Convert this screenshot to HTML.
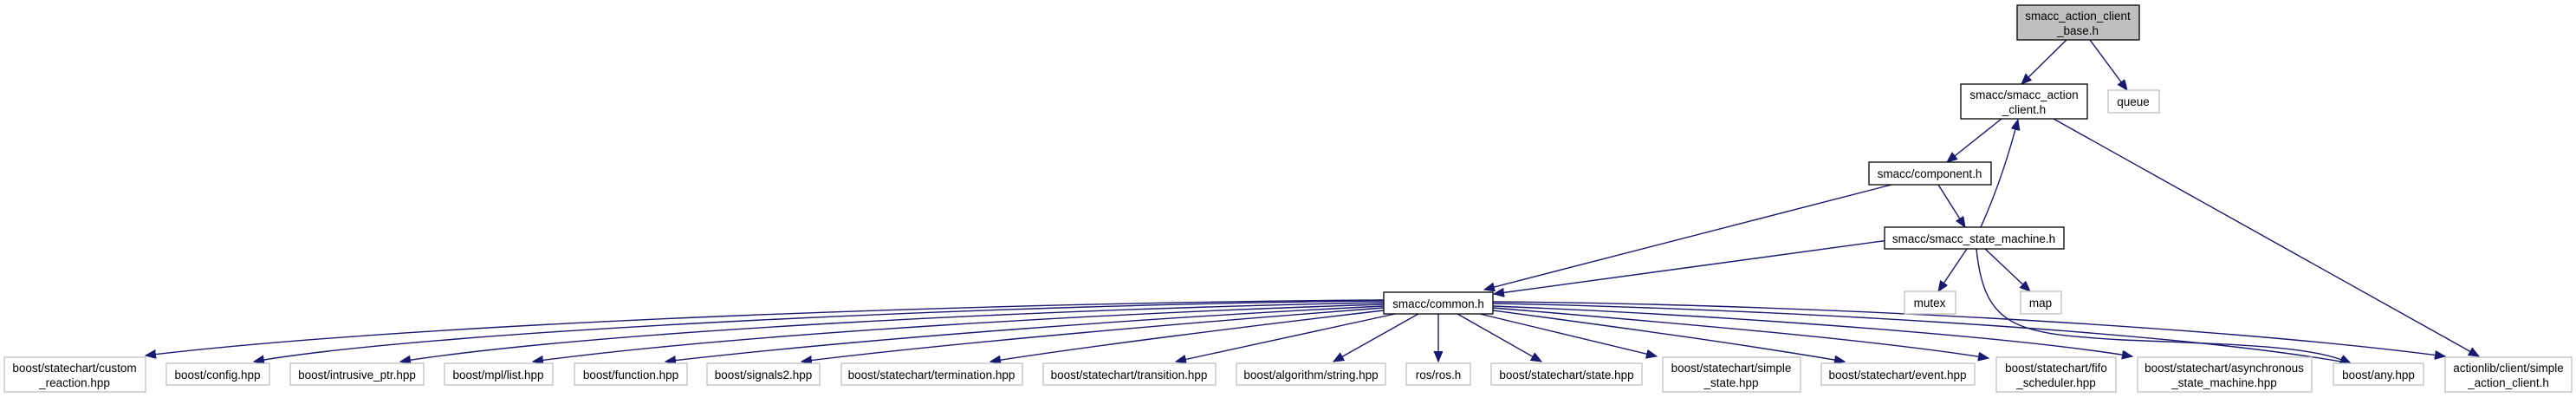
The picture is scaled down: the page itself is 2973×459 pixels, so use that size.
<!DOCTYPE html>
<html><head><meta charset="utf-8"><style>
html,body{margin:0;padding:0;background:#fff;}
svg{display:block;}
text{font-family:"Liberation Sans",sans-serif;font-size:13.5px;fill:#000;text-anchor:middle;}
.g{fill:#fff;stroke:#bfbfbf;stroke-width:1.3;}
.b{fill:#fff;stroke:#000;stroke-width:1.3;}
.e{fill:none;stroke:#191970;stroke-width:1.4;}
</style></head><body>
<svg width="2973" height="459" viewBox="0 0 2973 459" xmlns="http://www.w3.org/2000/svg">
<defs>
<marker id="a" markerUnits="userSpaceOnUse" markerWidth="14" markerHeight="12" refX="12" refY="5" orient="auto">
<path d="M0,0 L12,5 L0,10 Z" fill="#191970" stroke="#191970"/>
</marker>
</defs>

<!-- edges -->
<g class="e" marker-end="url(#a)">
<path d="M2385,46 L2333,97"/>
<path d="M2412,46 L2455,104"/>
<path d="M2310,137 L2247,187"/>
<path d="M2370,137 L2861,411"/>
<path d="M2237,213 L2268,262"/>
<path d="M2286,262 C2305,220 2318,180 2329,138"/>
<path d="M2183,213 L1713,334"/>
<path d="M2180,277 L1724,339"/>
<path d="M2270,287 L2237,336"/>
<path d="M2291,287 L2343,336"/>
<path d="M2281,287 C2290,380 2330,385 2450,392 C2600,398 2670,400 2713,419"/>

<!-- common.h to bottom -->
<path d="M1597,346 C1200,348 500,370 168,410"/>
<path d="M1597,347 C1200,350 500,380 293,417"/>
<path d="M1597,349 C1250,355 700,380 462,417"/>
<path d="M1597,351 C1300,360 850,385 615,417"/>
<path d="M1597,353 C1350,365 1000,390 768,417"/>
<path d="M1597,355 C1400,370 1100,395 925,417"/>
<path d="M1597,358 C1450,375 1250,400 1143,417"/>
<path d="M1610,362 L1357,417"/>
<path d="M1637,362 L1539,417"/>
<path d="M1660,362 L1660,417"/>
<path d="M1682,362 L1779,417"/>
<path d="M1708,362 L1912,411"/>
<path d="M1723,358 C1850,375 2000,395 2129,417"/>
<path d="M1723,355 C1900,370 2150,390 2295,413"/>
<path d="M1723,353 C1950,362 2300,385 2461,411"/>
<path d="M1723,350 C2000,355 2500,380 2713,419"/>
<path d="M1723,348 C2050,350 2550,375 2822,411"/>
</g>

<!-- main nodes -->
<rect x="2328" y="6" width="141" height="40" fill="#bfbfbf" stroke="#000" stroke-width="1.3"/>
<text x="2398" y="23">smacc_action_client</text>
<text x="2398" y="40">_base.h</text>

<rect class="g" x="2433" y="104" width="59" height="26"/>
<text x="2462" y="122">queue</text>

<rect class="b" x="2263" y="97" width="146" height="40"/>
<text x="2336" y="114">smacc/smacc_action</text>
<text x="2336" y="131">_client.h</text>

<rect class="b" x="2157" y="187" width="141" height="26"/>
<text x="2227" y="205">smacc/component.h</text>

<rect class="b" x="2175" y="262" width="207" height="25"/>
<text x="2278" y="280">smacc/smacc_state_machine.h</text>

<rect class="g" x="2198" y="336" width="59" height="26"/>
<text x="2227" y="354">mutex</text>
<rect class="g" x="2332" y="336" width="47" height="26"/>
<text x="2355" y="354">map</text>

<rect class="b" x="1597" y="337" width="126" height="25"/>
<text x="1660" y="355">smacc/common.h</text>

<!-- bottom row -->
<rect class="g" x="5" y="412" width="163" height="40"/>
<text x="86" y="429">boost/statechart/custom</text>
<text x="86" y="446">_reaction.hpp</text>

<rect class="g" x="192" y="419" width="119" height="25"/>
<text x="251" y="437">boost/config.hpp</text>
<rect class="g" x="335" y="419" width="154" height="25"/>
<text x="412" y="437">boost/intrusive_ptr.hpp</text>
<rect class="g" x="513" y="419" width="125" height="25"/>
<text x="575" y="437">boost/mpl/list.hpp</text>
<rect class="g" x="663" y="419" width="130" height="25"/>
<text x="728" y="437">boost/function.hpp</text>
<rect class="g" x="816" y="419" width="130" height="25"/>
<text x="881" y="437">boost/signals2.hpp</text>
<rect class="g" x="971" y="419" width="209" height="25"/>
<text x="1075" y="437">boost/statechart/termination.hpp</text>
<rect class="g" x="1204" y="419" width="199" height="25"/>
<text x="1303" y="437">boost/statechart/transition.hpp</text>
<rect class="g" x="1427" y="419" width="172" height="25"/>
<text x="1513" y="437">boost/algorithm/string.hpp</text>
<rect class="g" x="1623" y="419" width="74" height="25"/>
<text x="1660" y="437">ros/ros.h</text>
<rect class="g" x="1721" y="419" width="174" height="25"/>
<text x="1808" y="437">boost/statechart/state.hpp</text>

<rect class="g" x="1919" y="412" width="159" height="40"/>
<text x="1998" y="429">boost/statechart/simple</text>
<text x="1998" y="446">_state.hpp</text>

<rect class="g" x="2102" y="419" width="177" height="25"/>
<text x="2190" y="437">boost/statechart/event.hpp</text>

<rect class="g" x="2304" y="412" width="138" height="40"/>
<text x="2373" y="429">boost/statechart/fifo</text>
<text x="2373" y="446">_scheduler.hpp</text>

<rect class="g" x="2467" y="412" width="201" height="40"/>
<text x="2567" y="429">boost/statechart/asynchronous</text>
<text x="2567" y="446">_state_machine.hpp</text>

<rect class="g" x="2693" y="419" width="104" height="25"/>
<text x="2745" y="437">boost/any.hpp</text>

<rect class="g" x="2822" y="412" width="146" height="40"/>
<text x="2895" y="429">actionlib/client/simple</text>
<text x="2895" y="446">_action_client.h</text>
</svg>
</body></html>
